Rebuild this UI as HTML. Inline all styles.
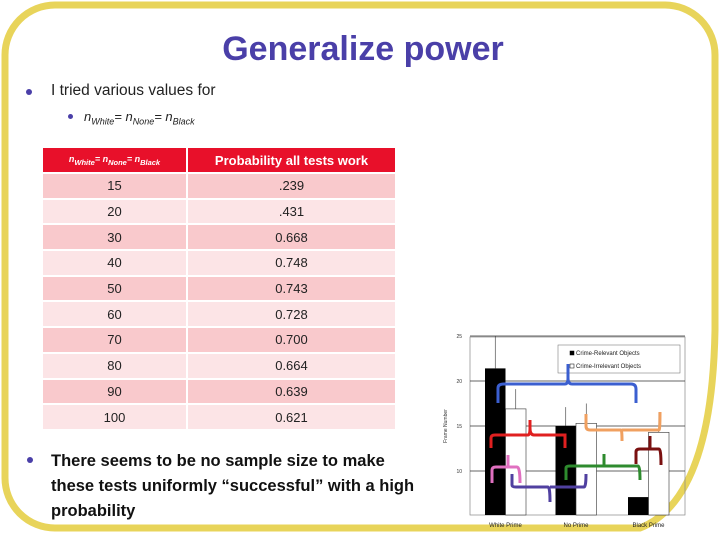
<!DOCTYPE html>
<html><head><meta charset="utf-8"><style>
body{margin:0;width:720px;height:540px;overflow:hidden;background:#fff;font-family:"Liberation Sans",sans-serif;position:relative}
.abs{position:absolute}
#title{left:0;width:726px;top:30px;text-align:center;font-size:34px;font-weight:bold;color:#4A3FA8}
.dot{position:absolute;border-radius:50%;background:#4A3FA8}
table{position:absolute;left:43px;top:148px;border-collapse:separate;border-spacing:2px;margin:-2px;font-size:13px;color:#222}
td{text-align:center;height:23.7px;padding:0}
tr.h td{background:#E8102A;color:#fff;font-weight:bold;height:24px}
tr.d td{background:#F9C9CC}
tr.l td{background:#FCE4E6}
</style></head><body>
<svg class="abs" style="left:0;top:0" width="720" height="540">
<path d="M55 5 H665 A50 50 0 0 1 715 55 V330 Q712 500 640 528 H55 A50 50 0 0 1 5 478 V55 A50 50 0 0 1 55 5 Z" fill="none" stroke="#E8D45A" stroke-width="7"/>
</svg>
<div id="title" class="abs">Generalize power</div>
<div class="dot" style="left:26px;top:89px;width:6px;height:6px"></div>
<div class="abs" style="left:51px;top:82px;font-size:15.5px;color:#222">I tried various values for</div>
<div class="dot" style="left:68px;top:114px;width:5px;height:5px"></div>
<div class="abs" style="left:84px;top:109px;font-size:13px;font-style:italic;color:#222">n<sub style="font-size:9px">White</sub>= n<sub style="font-size:9px">None</sub>= n<sub style="font-size:9px">Black</sub></div>
<table>
<tr class="h"><td style="width:143px;font-size:9px;font-style:italic">n<sub>White</sub>= n<sub>None</sub>= n<sub>Black</sub></td><td style="width:207px">Probability all tests work</td></tr>
<tr class="d"><td>15</td><td>.239</td></tr>
<tr class="l"><td>20</td><td>.431</td></tr>
<tr class="d"><td>30</td><td>0.668</td></tr>
<tr class="l"><td>40</td><td>0.748</td></tr>
<tr class="d"><td>50</td><td>0.743</td></tr>
<tr class="l"><td>60</td><td>0.728</td></tr>
<tr class="d"><td>70</td><td>0.700</td></tr>
<tr class="l"><td>80</td><td>0.664</td></tr>
<tr class="d"><td>90</td><td>0.639</td></tr>
<tr class="l"><td>100</td><td>0.621</td></tr>
</table>
<div class="dot" style="left:27px;top:457px;width:6px;height:6px"></div>
<div class="abs" style="left:51px;top:449px;width:370px;font-size:16.5px;line-height:25px;font-weight:bold;color:#111">There seems to be no sample size to make these tests uniformly “successful” with a high probability</div>
<svg id="chart" class="abs" style="left:0;top:0" width="720" height="540"></svg>
<script>
const categories=["White Prime","No Prime","Black Prime"];
const relevant=[21.4,15.0,7.1];
const irrelevant=[16.9,15.3,14.3];
const relErr=[3.6,2.1,0];
const irrErr=[2.2,2.2,2.2];
const tickValues=[10,15,20,25];
const tickLabels=["10","15","20","25"];
const NS="http://www.w3.org/2000/svg";
const svg=document.getElementById('chart');
const X0=470,X1=685,Ytop=337;
function y(v){return 471-(v-10)*9;}
function mk(t,a){const e=document.createElementNS(NS,t);for(const k in a)e.setAttribute(k,a[k]);svg.appendChild(e);return e;}
const frame=mk('rect',{x:X0,y:Ytop,width:X1-X0,height:515-Ytop,fill:'none',stroke:'#888','stroke-width':0.7});


tickValues.forEach((v,i)=>{
 const g=mk('line',{x1:X0,x2:X1,y1:y(v),y2:y(v),stroke:'#333','stroke-width':0.7});
 
 
 const t=mk('text',{x:X0-8,y:y(v)+2,'font-size':5,'text-anchor':'end',fill:'#333'});
 t.textContent=tickLabels[i];
 
 
});
const yt=mk('text',{x:447,y:426,'font-size':5,'text-anchor':'middle',fill:'#333',transform:'rotate(-90 447 426)'});
yt.textContent='Frame Number';


const base=515,bw=20.5;
const starts=[485,555.5,628];
categories.forEach((c,i)=>{
 const b1=mk('rect',{x:starts[i],y:y(relevant[i]),width:bw,height:base-y(relevant[i]),fill:'#000'});
 
 
 const b2=mk('rect',{x:starts[i]+bw,y:y(irrelevant[i]),width:bw,height:base-y(irrelevant[i]),fill:'#fff',stroke:'#333','stroke-width':0.6});
 
 
 if(relErr[i]>0){const e=mk('line',{x1:starts[i]+bw/2,x2:starts[i]+bw/2,y1:y(relevant[i]),y2:y(relevant[i]+relErr[i]),stroke:'#333','stroke-width':0.6});
 
 }
 const e2=mk('line',{x1:starts[i]+bw*1.5,x2:starts[i]+bw*1.5,y1:y(irrelevant[i]),y2:y(irrelevant[i]+irrErr[i]),stroke:'#333','stroke-width':0.6});
 
 
 const l=mk('text',{x:starts[i]+bw,y:527,'font-size':6,'text-anchor':'middle',fill:'#222'});
 l.textContent=c;
 
 
});
const lg=mk('rect',{x:558,y:345,width:122,height:28,fill:'#fff',stroke:'#666','stroke-width':0.5});


[["Crime-Relevant Objects","#000",355],["Crime-Irrelevant Objects","#fff",368]].forEach(a=>{
 mk('rect',{x:570,y:a[2]-4,width:4,height:4,fill:a[1],stroke:'#000','stroke-width':0.5});
 const t=mk('text',{x:576,y:a[2],'font-size':6,fill:'#222'});t.textContent=a[0];
 
 
});
const braces=[
 ["#3B5FD0","M498 403 V388 Q498 384 504 384 H565 Q568 384 568 378 V364 M568 378 Q568 384 572 384 H631 Q636 384 636 389 V403"],
 ["#E02020","M491 448 V438 Q491 435 495 435 H528 Q530 435 530 428 V420 M530 428 Q530 435 534 435 H565 Q565 435 565 448"],
 ["#F0A060","M586 414 V426 Q586 430 590 430 H621 Q622 430 622 441 M622 430 H659 Q660 430 660 412"],
 ["#2E8B2E","M566 480 V468 Q566 466 570 466 H604 Q604 466 604 454 M604 466 H638 Q640 466 640 480"],
 ["#7A1010","M636 464 V452 Q636 449 640 449 H650 V436 M650 449 H659 Q661 449 661 465"],
 ["#E070C0","M492 483 V470 Q492 467 496 467 H508 V455 M508 467 H517 Q520 467 520 483"],
 ["#5040A0","M512 474 V485 Q512 487 516 487 H548 Q550 487 550 502 M550 487 H584 Q586 487 586 474"]
];
braces.forEach(b=>{const p=mk('path',{d:b[1],fill:'none',stroke:b[0],'stroke-width':3});
 
 });
</script>
</body></html>
